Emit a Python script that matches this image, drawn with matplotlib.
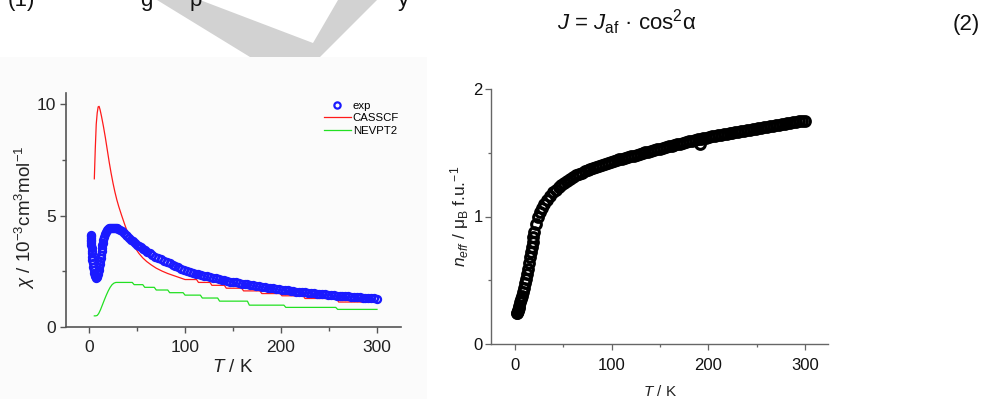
import numpy as np
import matplotlib
matplotlib.use('Agg')
import matplotlib.pyplot as plt
from matplotlib.patches import Polygon, Rectangle

plt.rcParams['font.family'] = ['Liberation Sans', 'DejaVu Sans']
plt.rcParams['mathtext.fontset'] = 'custom'
plt.rcParams['mathtext.rm'] = 'Liberation Sans'
plt.rcParams['mathtext.it'] = 'Liberation Sans:italic'
plt.rcParams['mathtext.bf'] = 'Liberation Sans:bold'

#--------------------------------------------------
# DATA
#--------------------------------------------------
# left panel: chi / 1e-3 cm3 mol-1
T_exp = [1.8, 1.9, 2.0, 2.1, 2.2, 2.3, 2.4, 2.6, 2.8, 3.0, 3.3, 3.6, 4.0, 4.5, 5.0, 5.5,
         6.0, 6.5, 7.0, 7.5, 8.0, 8.5, 9.0, 9.5, 10.0, 10.5, 11.0, 11.5, 12.0, 12.5, 13.0,
         13.5, 14.0, 14.5, 15.0, 16, 17, 18, 19, 20, 21, 22, 23, 24, 25, 26, 27, 28, 29,
         30, 32, 34, 36, 38, 40, 42, 44, 46, 48, 50, 52, 54, 56, 58, 60, 63, 66, 69, 72,
         75, 78, 81, 84, 87, 90, 93, 96, 99, 102, 105, 108, 111, 114, 117, 120, 123, 126,
         129, 132, 135, 138, 141, 144, 147, 150, 153, 156, 159, 162, 165, 168, 171, 174,
         177, 180, 183, 186, 189, 192, 195, 198, 201, 204, 207, 210, 213, 216, 219, 222,
         225, 228, 231, 234, 237, 240, 243, 246, 249, 252, 255, 258, 261, 264, 267, 270,
         273, 276, 279, 282, 285, 288, 291, 294, 297, 300]
chi_exp = [4.15, 4.08, 4.00, 3.92, 3.84, 3.76, 3.68, 3.55, 3.42, 3.30, 3.15, 3.00, 2.85, 2.68,
           2.55, 2.43, 2.34, 2.27, 2.23, 2.22, 2.24, 2.29, 2.36, 2.45, 2.56, 2.68, 2.81, 2.95,
           3.10, 3.25, 3.40, 3.54, 3.67, 3.79, 3.90, 4.06, 4.18, 4.27, 4.34, 4.39, 4.42, 4.44,
           4.45, 4.46, 4.46, 4.46, 4.45, 4.44, 4.42, 4.40, 4.35, 4.29, 4.22, 4.15, 4.08, 4.00,
           3.92, 3.84, 3.77, 3.70, 3.63, 3.57, 3.50, 3.44, 3.38, 3.30, 3.22, 3.15, 3.09, 3.03,
           2.97, 2.91, 2.85, 2.79, 2.73, 2.67, 2.61, 2.56, 2.52, 2.48, 2.44, 2.40, 2.36, 2.33,
           2.30, 2.27, 2.24, 2.21, 2.18, 2.15, 2.12, 2.09, 2.07, 2.04, 2.02, 2.00, 1.98, 1.95,
           1.93, 1.91, 1.89, 1.87, 1.85, 1.83, 1.81, 1.79, 1.77, 1.75, 1.73, 1.71, 1.69, 1.67,
           1.66, 1.64, 1.62, 1.61, 1.59, 1.58, 1.56, 1.55, 1.53, 1.52, 1.51, 1.49, 1.48, 1.47,
           1.46, 1.45, 1.44, 1.42, 1.41, 1.40, 1.39, 1.38, 1.37, 1.36, 1.35, 1.34, 1.33, 1.32,
           1.31, 1.30, 1.29, 1.28, 1.27]

T_cas = [5.5, 6.5, 7.5, 8.5, 9.5, 10.5, 11.5, 13, 15, 17, 19, 21, 23, 25, 27, 29, 31, 34, 37,
         40, 44, 48, 52, 56, 60, 65, 70, 76, 82, 88, 94, 100, 112, 114, 126, 128, 141, 143,
         159, 161, 178, 180, 199, 201, 223, 225, 258, 260, 300]
chi_cas = [6.65, 8.0, 9.1, 9.6, 9.88, 9.9, 9.75, 9.45, 9.0, 8.5, 7.95, 7.4, 6.9, 6.45, 6.05,
           5.7, 5.4, 5.0, 4.62, 4.26, 3.85, 3.55, 3.3, 3.1, 2.94, 2.78, 2.64, 2.51, 2.4, 2.31,
           2.22, 2.13, 2.13, 2.0, 2.0, 1.87, 1.87, 1.74, 1.74, 1.62, 1.62, 1.5, 1.5, 1.4,
           1.4, 1.28, 1.28, 1.12, 1.12]

T_nev = [5.5, 7, 8.5, 10, 12, 14, 16, 18, 20, 22, 24, 26, 28, 35, 45, 47, 56, 58, 68, 70, 82,
         84, 98, 100, 116, 118, 134, 136, 165, 167, 203, 205, 257, 259, 300]
chi_nev = [0.5, 0.5, 0.52, 0.6, 0.78, 1.0, 1.22, 1.43, 1.62, 1.78, 1.9, 1.97, 2.0, 2.0, 2.0,
           1.9, 1.9, 1.78, 1.78, 1.66, 1.66, 1.54, 1.54, 1.43, 1.43, 1.3, 1.3, 1.16, 1.16,
           0.98, 0.98, 0.88, 0.88, 0.79, 0.79]

# right panel: n_eff / mu_B f.u.-1
T_n = [1.8, 2, 2.5, 3, 3.5, 4, 5, 6, 7, 8, 9, 10, 11, 12, 13, 14, 15, 16, 17, 18, 19, 20, 22,
       24, 26, 28, 30, 33, 36, 39, 42, 45, 48, 51, 54, 57, 60, 63, 66, 69, 72, 75, 78, 81, 84,
       87, 90, 93, 96, 99, 102, 105, 108, 111, 114, 117, 120, 123, 126, 129, 132, 135, 138,
       141, 144, 147, 150, 153, 156, 159, 162, 165, 168, 171, 174, 177, 180, 183, 186, 189,
       191, 192, 195, 198, 201, 204, 207, 210, 213, 216, 219, 222, 225, 228, 231, 234, 237,
       240, 243, 246, 249, 252, 255, 258, 261, 264, 267, 270, 273, 276, 279, 282, 285, 288,
       291, 294, 297, 300]
n_eff = [0.24, 0.245, 0.255, 0.265, 0.28, 0.295, 0.33, 0.355, 0.38, 0.41, 0.44, 0.475, 0.51,
         0.55, 0.59, 0.635, 0.68, 0.72, 0.76, 0.80, 0.84, 0.88, 0.945, 0.995, 1.035, 1.07,
         1.095, 1.13, 1.16, 1.19, 1.21, 1.23, 1.25, 1.265, 1.28, 1.295, 1.31, 1.322, 1.334,
         1.345, 1.355, 1.365, 1.374, 1.383, 1.391, 1.399, 1.407, 1.414, 1.421, 1.428, 1.435,
         1.441, 1.448, 1.454, 1.46, 1.466, 1.472, 1.478, 1.484, 1.49, 1.496, 1.502, 1.508,
         1.514, 1.52, 1.526, 1.532, 1.538, 1.544, 1.55, 1.555, 1.561, 1.567, 1.572, 1.578,
         1.583, 1.589, 1.594, 1.599, 1.604, 1.57, 1.609, 1.614, 1.619, 1.624, 1.628, 1.632,
         1.636, 1.640, 1.644, 1.648, 1.652, 1.656, 1.660, 1.664, 1.668, 1.672, 1.676, 1.680,
         1.684, 1.688, 1.692, 1.696, 1.700, 1.704, 1.708, 1.712, 1.716, 1.720, 1.724, 1.728,
         1.732, 1.736, 1.740, 1.743, 1.746, 1.749, 1.752]

W, H = 981., 399.
def fx(x): return x / W
def fy(y): return 1 - y / H

fig = plt.figure(figsize=(9.81, 3.99), dpi=100)

#--------------------------------------------------
# page decorations around the figures
#--------------------------------------------------
mark = [(157, 0), (250, 57), (320, 57), (377, 0), (338, 0), (313, 43), (200, 0)]
fig.patches.append(Polygon([(fx(a), fy(b)) for a, b in mark], closed=True,
                           transform=fig.transFigure, facecolor='#d2d2d2', edgecolor='none', zorder=-5))
fig.patches.append(Rectangle((0, 0), fx(427), 1 - 57 / H, transform=fig.transFigure,
                             facecolor='#fbfbfb', edgecolor='none', zorder=-5))

for s, x in [('(1)', 8), ('g', 140), ('p', 190), ('y', 398)]:
    fig.text(fx(x), fy(6), s, fontsize=16, va='baseline', ha='left', color='#111111')
fig.text(fx(557), fy(30), r'$J$ = $J_{\mathrm{af}}$ · cos$^{2}$α', fontsize=16,
         va='baseline', ha='left', color='#111111')
fig.text(fx(980), fy(30), '(2)', fontsize=16, va='baseline', ha='right', color='#111111')

#--------------------------------------------------
# LEFT: chi vs T
#--------------------------------------------------
ax = fig.add_axes([fx(66), fy(327), (401 - 66) / W, (327 - 93) / H])
ax.set_zorder(2)
ax.patch.set_alpha(0)
ax.plot(T_exp, chi_exp, 'o', ms=5.0, mfc='none', mec='#1a1aff', mew=1.7, label='exp', zorder=3)
ax.plot(T_cas, chi_cas, '-', color='#ff1a1a', lw=0.9, label='CASSCF', zorder=2)
ax.plot(T_nev, chi_nev, '-', color='#22e022', lw=0.9, label='NEVPT2', zorder=2)
ax.set_xlim(-24, 325)
ax.set_ylim(0, 10.5)
ax.set_xticks([0, 100, 200, 300])
ax.set_xticks([50, 150, 250], minor=True)
ax.set_yticks([0, 5, 10])
ax.set_yticks([2.5, 7.5], minor=True)
for sp in ['top', 'right']:
    ax.spines[sp].set_visible(False)
for sp in ['left', 'bottom']:
    ax.spines[sp].set_color('#555555')
    ax.spines[sp].set_linewidth(1.2)
ax.tick_params(which='both', direction='out', color='#555555', width=1.0,
               labelsize=12.5, labelcolor='#222222')
ax.tick_params(which='major', length=4)
ax.tick_params(which='minor', length=3)
ax.tick_params(axis='y', pad=3)
ax.tick_params(axis='x', pad=5)
leg = ax.legend(loc='upper right', bbox_to_anchor=(1.018, 1.0), frameon=False, fontsize=8.2,
                handlelength=2.4, handletextpad=0.15, labelspacing=0.2, borderaxespad=0.3,
                markerscale=0.9)
leg.legend_handles[0].set_markeredgewidth(1.6)
fig.text(fx(25), fy(217), r'$\chi$ / 10$^{-3}$cm$^{3}$mol$^{-1}$', rotation=90, fontsize=13.5,
         ha='center', va='center', color='#222222')
fig.text(fx(233), fy(368), r'$T$ / K', fontsize=13.5, ha='center', va='center', color='#222222')

#--------------------------------------------------
# RIGHT: n_eff vs T
#--------------------------------------------------
ax2 = fig.add_axes([fx(491), fy(344), (828 - 491) / W, (344 - 89) / H])
ax2.set_zorder(2)
ax2.patch.set_alpha(0)
ax2.plot(T_n, n_eff, 'o', ms=7, mfc='none', mec='black', mew=2.2, zorder=3)
ax2.set_xlim(-25, 324)
ax2.set_ylim(0, 2)
ax2.set_xticks([0, 100, 200, 300])
ax2.set_xticks([50, 150, 250], minor=True)
ax2.set_yticks([0, 1, 2])
ax2.set_yticks([0.5, 1.5], minor=True)
for sp in ['top', 'right']:
    ax2.spines[sp].set_visible(False)
for sp in ['left', 'bottom']:
    ax2.spines[sp].set_color('#666666')
    ax2.spines[sp].set_linewidth(1.0)
ax2.tick_params(which='both', direction='out', color='#666666', width=0.9,
                labelsize=12, labelcolor='#111111')
ax2.tick_params(which='major', length=4)
ax2.tick_params(which='minor', length=2.5)
ax2.tick_params(axis='y', pad=2)
ax2.tick_params(axis='x', pad=6)
fig.text(fx(460), fy(216), r'$n_{eff}$ / μ$_{\mathrm{B}}$ f.u.$^{-1}$', rotation=90, fontsize=12.5,
         ha='center', va='center', color='#222222')
fig.text(fx(660), fy(391), r'$T$ / K', fontsize=11, ha='center', va='center', color='#222222')

fig.savefig('out.png', dpi=100)
